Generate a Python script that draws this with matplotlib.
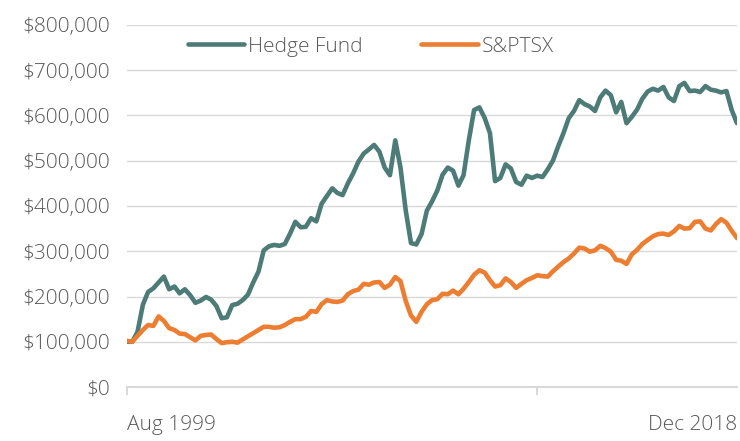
import matplotlib
matplotlib.use("Agg")
import matplotlib.pyplot as plt
import matplotlib.ticker as mticker
import pandas as pd

# values in $ thousands, every second month from Aug 1999 to Dec 2018
dates = pd.date_range("1999-08-01", "2018-12-01", freq="2MS")

hedge_fund = [
    100, 100, 122, 182, 210, 218, 231, 244, 216, 222,
    207, 216, 203, 186, 191, 199, 193, 179, 152, 154,
    181, 184, 192, 204, 231, 255, 302, 311, 314, 312,
    316, 339, 365, 353, 354, 373, 366, 405, 422, 439,
    429, 424, 450, 472, 498, 516, 525, 535, 520, 485,
    468, 545, 485, 390, 318, 315, 338, 390, 410, 434,
    469, 485, 478, 445, 468, 545, 612, 618, 595, 561,
    455, 462, 492, 483, 453, 447, 467, 462, 467, 464,
    481, 501, 532, 561, 594, 610, 634, 625, 620, 610,
    640, 655, 645, 607, 630, 583, 597, 613, 637, 653,
    659, 655, 663, 640, 632, 665, 672, 654, 655, 652,
    665, 657, 655, 651, 654, 612, 583,
]

sp_tsx = [
    102, 100, 113, 126, 137, 135, 156, 146, 130, 126,
    118, 117, 110, 103, 113, 115, 116, 106, 97, 99,
    100, 98, 105, 112, 119, 126, 133, 133, 131, 132,
    137, 144, 150, 150, 155, 168, 166, 183, 192, 189,
    188, 191, 205, 212, 215, 228, 226, 231, 232, 219,
    226, 243, 234, 190, 158, 144, 166, 183, 192, 194,
    206, 205, 213, 205, 217, 232, 248, 258, 253, 236,
    222, 225, 240, 232, 219, 228, 236, 241, 247, 245,
    244, 256, 266, 276, 284, 295, 308, 306, 299, 302,
    312, 307, 299, 281, 279, 272, 293, 303, 316, 325,
    333, 338, 339, 336, 344, 356, 350, 351, 365, 366,
    350, 346, 360, 371, 363, 345, 329,
]

series_names = ["Hedge Fund", "S&PTSX"]
colors = ["#4D7C78", "#ED7D31"]
txt = "#595959"

plt.rcParams["font.family"] = ["Open Sans", "DejaVu Sans"]

fig = plt.figure(figsize=(7.4, 4.41), dpi=100)
ax = fig.add_axes([127 / 740, 1 - 387 / 441, 610 / 740, 362 / 441])

for vals, name, c in zip([hedge_fund, sp_tsx], series_names, colors):
    ax.plot(dates, [v * 1000 for v in vals], color=c, lw=3.3,
            solid_joinstyle="round", solid_capstyle="round", label=name)

ax.set_ylim(0, 800000)
ax.set_xlim(dates[0], dates[-1])
ax.yaxis.set_major_locator(mticker.MultipleLocator(100000))
ax.yaxis.set_major_formatter(mticker.FuncFormatter(lambda v, p: "${:,.0f}".format(v)))
ax.grid(axis="y", color="#D9D9D9", lw=1.0)
ax.set_axisbelow(True)

for s in ["left", "top", "right"]:
    ax.spines[s].set_visible(False)
ax.spines["bottom"].set_color("#D9D9D9")
ax.spines["bottom"].set_linewidth(1.5)

ax.tick_params(axis="y", length=0, pad=12, labelsize=15, labelcolor=txt)
ax.set_xticks([dates[0], pd.Timestamp("2012-08-01"), dates[-1]])
ax.set_xticklabels(["Aug 1999", "", "Dec 2018"])
ax.tick_params(axis="x", length=6, width=1.5, color="#D9D9D9", pad=14,
               labelsize=15, labelcolor=txt)
xt = ax.get_xticklabels()
xt[0].set_ha("left")
xt[-1].set_ha("right")
ax.xaxis.get_major_ticks()[-1].tick1line.set_visible(False)
for lab in ax.get_yticklabels() + xt:
    lab.set_fontweight("light")

leg = ax.legend(loc="center", bbox_to_anchor=(0.4, 0.94), ncol=2, frameon=False,
                fontsize=15, handlelength=2.7, handletextpad=0.2, columnspacing=2.8,
                labelcolor=txt)
for t in leg.get_texts():
    t.set_fontweight("light")

fig.savefig("out.png", dpi=100)
